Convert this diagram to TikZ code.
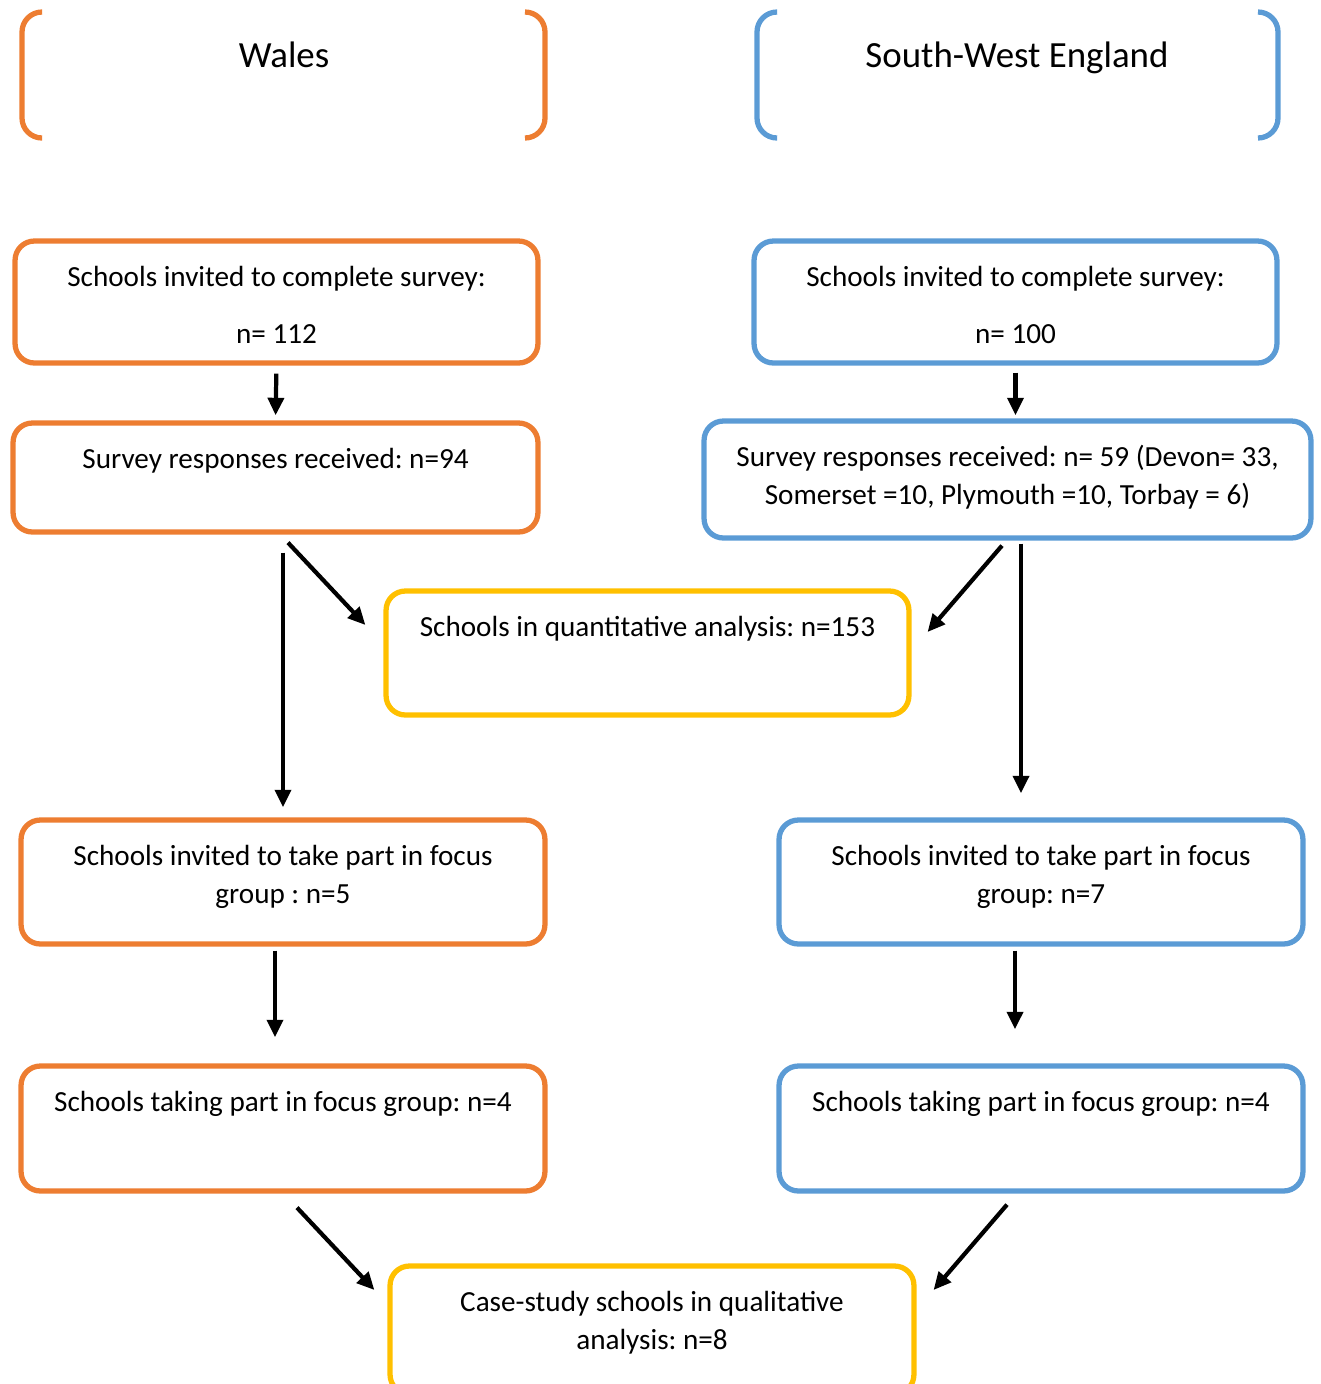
\documentclass[tikz,border=0pt]{standalone}
\usepackage{fontspec}
\setmainfont{Carlito}
\usepackage{tikz}
\usetikzlibrary{arrows.meta,calc}
\frenchspacing

\definecolor{walesorange}{HTML}{ED7D31}
\definecolor{englandblue}{HTML}{5B9BD5}
\definecolor{mergeyellow}{HTML}{FFC000}

% text sits at the top of each box, like a Word text box
\newcommand{\boxtext}[3]{\parbox[c][#2][t]{#1}{\centering\vspace*{0.39cm}\strut#3}}

\tikzset{
  regionbox/.style={draw=#1, line width=3pt, rounded corners=11pt, inner sep=0pt,
    font=\fontsize{16.6}{21.5}\selectfont},
  bracketline/.style={draw=#1, line width=3pt, rounded corners=0.4cm},
  flowarrow/.style={-{Triangle[length=10pt,width=9pt]}, line width=2.4pt},
  titletext/.style={anchor=base, font=\fontsize{21}{25}\selectfont},
}

\begin{document}
\begin{tikzpicture}[x=0.02cm, y=-0.02cm]
    \useasboundingbox (0,0) rectangle (1320,1384);

    % region headings
    \node[titletext] (wales) at (284,67) {Wales};
    \node[titletext] (swe) at (1017,67) {South-West England};
    \draw[bracketline=walesorange] (42,12) -- (22,12) -- (22,138) -- (42,138);
    \draw[bracketline=walesorange] (525,12) -- (545,12) -- (545,138) -- (525,138);
    \draw[bracketline=englandblue] (777,12) -- (757,12) -- (757,138) -- (777,138);
    \draw[bracketline=englandblue] (1258,12) -- (1278,12) -- (1278,138) -- (1258,138);

    % boxes
    \node[regionbox=walesorange] (w1) at (276.5,302)
        {\boxtext{10.46cm}{2.44cm}{Schools invited to complete survey:\\[10.8pt] n= 112}};
    \node[regionbox=englandblue] (e1) at (1015.5,302)
        {\boxtext{10.46cm}{2.44cm}{Schools invited to complete survey:\\[10.8pt] n= 100}};
    \node[regionbox=walesorange] (w2) at (275.5,477.5)
        {\boxtext{10.5cm}{2.18cm}{Survey responses received: n=94}};
    \node[regionbox=englandblue] (e2) at (1007.5,479.5)
        {\boxtext{12.14cm}{2.34cm}{Survey responses received: n= 59 (Devon= 33,\\ Somerset =10, Plymouth =10, Torbay = 6)}};
    \node[regionbox=mergeyellow] (q) at (647.5,653)
        {\boxtext{10.46cm}{2.48cm}{Schools in quantitative analysis: n=153}};
    \node[regionbox=walesorange] (w3) at (283,882)
        {\boxtext{10.48cm}{2.48cm}{Schools invited to take part in focus\\ group : n=5}};
    \node[regionbox=englandblue] (e3) at (1041,882)
        {\boxtext{10.48cm}{2.48cm}{Schools invited to take part in focus\\ group: n=7}};
    \node[regionbox=walesorange] (w4) at (283,1128.5)
        {\boxtext{10.48cm}{2.5cm}{Schools taking part in focus group: n=4}};
    \node[regionbox=englandblue] (e4) at (1041,1128.5)
        {\boxtext{10.48cm}{2.5cm}{Schools taking part in focus group: n=4}};
    \node[regionbox=mergeyellow] (c) at (652,1330)
        {\boxtext{10.48cm}{2.56cm}{Case-study schools in qualitative\\ analysis: n=8}};

    % arrows
    \draw[flowarrow, shorten <=0.16cm, shorten >=0.1cm] (w1.south) -- (w2.north);
    \draw[flowarrow, shorten <=0.14cm, shorten >=0.06cm] (e1.south) -- (e1.south |- e2.north);
    \draw[flowarrow, shorten <=0.36cm, shorten >=0.2cm] (w3.north |- w2.south) -- (w3.north);
    \draw[flowarrow, shorten <=0.06cm, shorten >=0.48cm] ($(e2.south)+(13.5,0)$) coordinate (e2out) -- (e2out |- e3.north);
    \draw[flowarrow, shorten <=0.08cm, shorten >=0.52cm] ($(w3.south)+(-8,0)$) coordinate (w3out) -- (w3out |- w4.north);
    \draw[flowarrow, shorten <=0.08cm, shorten >=0.68cm] ($(e3.south)+(-26,0)$) coordinate (e3out) -- (e3out |- e4.north);
    \draw[flowarrow] ($(w2.south)+(12.5,8)$) -- ($(q.west)+(-18,-28)$);
    \draw[flowarrow] ($(e2.south)+(-5.5,5)$) -- ($(q.east)+(16,-21)$);
    \draw[flowarrow] ($(w4.south)+(14,14)$) -- ($(c.west)+(-13,-40)$);
    \draw[flowarrow] ($(e4.south)+(-34,11)$) -- ($(c.east)+(17,-40)$);
\end{tikzpicture}
\end{document}
